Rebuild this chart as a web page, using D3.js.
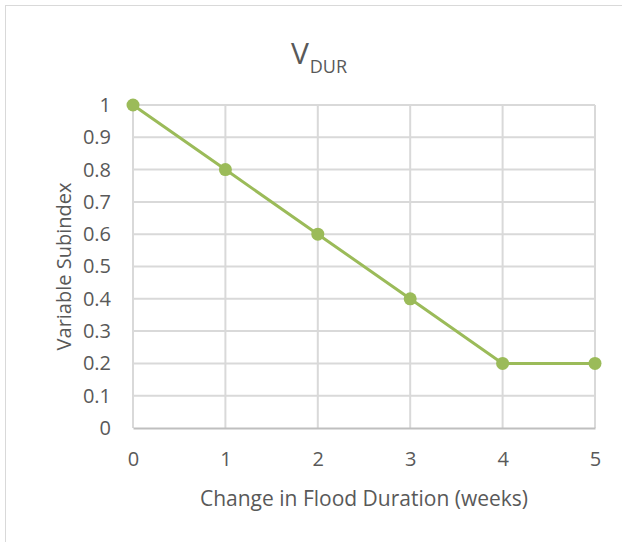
<!DOCTYPE html>
<html>
<head>
<meta charset="utf-8">
<script src="https://cdn.jsdelivr.net/npm/d3@7"></script>
<style>
  body { margin: 0; background: #fff; }
  text { font-family: "Open Sans", sans-serif; fill: #595959; }
</style>
</head>
<body>
<div id="chart"></div>
<script>
var weeks = [0, 1, 2, 3, 4, 5];
var subindex = [1, 0.8, 0.6, 0.4, 0.2, 0.2];
var yTicks = [0, 0.1, 0.2, 0.3, 0.4, 0.5, 0.6, 0.7, 0.8, 0.9, 1];

var width = 622;
var height = 542;

var svg = d3.select("#chart")
  .append("svg")
  .attr("width", width)
  .attr("height", height);

// chart outline
svg.append("rect")
  .attr("x", 5.5)
  .attr("y", 5.5)
  .attr("width", 700)
  .attr("height", 700)
  .attr("fill", "none")
  .attr("stroke", "#d9d9d9");

var pLeft = 133, pRight = 595, pTop = 105, pBottom = 428;

var x = d3.scaleLinear().domain([0, 5]).range([pLeft, pRight]);
var y = d3.scaleLinear().domain([0, 1]).range([pBottom, pTop]);

// gridlines
svg.append("g")
  .selectAll("line")
  .data(yTicks.slice(1))
  .enter()
  .append("line")
  .attr("x1", pLeft)
  .attr("x2", pRight)
  .attr("y1", function(d) { return y(d); })
  .attr("y2", function(d) { return y(d); })
  .attr("stroke", "#d9d9d9")
  .attr("stroke-width", 2);

svg.append("g")
  .selectAll("line")
  .data(weeks)
  .enter()
  .append("line")
  .attr("x1", function(d) { return x(d); })
  .attr("x2", function(d) { return x(d); })
  .attr("y1", pTop)
  .attr("y2", pBottom)
  .attr("stroke", "#d9d9d9")
  .attr("stroke-width", 2);

// axes
var xAxis = d3.axisBottom(x).tickValues(weeks).tickSize(0).tickPadding(24)
  .tickFormat(d3.format("d"));
var yAxis = d3.axisLeft(y).tickValues(yTicks).tickSize(0).tickPadding(22)
  .tickFormat(function(d) { return d === 0 || d === 1 ? d : d3.format(".1f")(d); });

var gx = svg.append("g")
  .attr("transform", "translate(0," + pBottom + ")")
  .call(xAxis);
gx.select(".domain").attr("stroke", "#bfbfbf").attr("stroke-width", 2);
gx.selectAll("text").style("font-size", "20px").style("fill", "#595959");

var gy = svg.append("g")
  .attr("transform", "translate(" + pLeft + ",0)")
  .call(yAxis);
gy.select(".domain").remove();
gy.selectAll("text").style("font-size", "20px").style("fill", "#595959");

// line
var line = d3.line()
  .x(function(d, i) { return x(weeks[i]); })
  .y(function(d) { return y(d); });

svg.append("path")
  .datum(subindex)
  .attr("d", line)
  .attr("fill", "none")
  .attr("stroke", "#9bbb59")
  .attr("stroke-width", 3);

svg.append("g")
  .selectAll("circle")
  .data(subindex)
  .enter()
  .append("circle")
  .attr("cx", function(d, i) { return x(weeks[i]); })
  .attr("cy", function(d) { return y(d); })
  .attr("r", 6.5)
  .attr("fill", "#9bbb59");

// title
var title = svg.append("text")
  .attr("x", 319)
  .attr("y", 64)
  .attr("text-anchor", "middle");
title.append("tspan").style("font-size", "30px").text("V");
title.append("tspan").style("font-size", "18px").attr("dy", 9).attr("dx", 1).text("DUR");

// axis titles
svg.append("text")
  .attr("x", (pLeft + pRight) / 2)
  .attr("y", 506)
  .attr("text-anchor", "middle")
  .style("font-size", "21px")
  .text("Change in Flood Duration (weeks)");

svg.append("text")
  .attr("transform", "translate(71," + (pTop + pBottom) / 2 + ")rotate(-90)")
  .attr("text-anchor", "middle")
  .style("font-size", "20px")
  .text("Variable Subindex");
</script>
</body>
</html>
